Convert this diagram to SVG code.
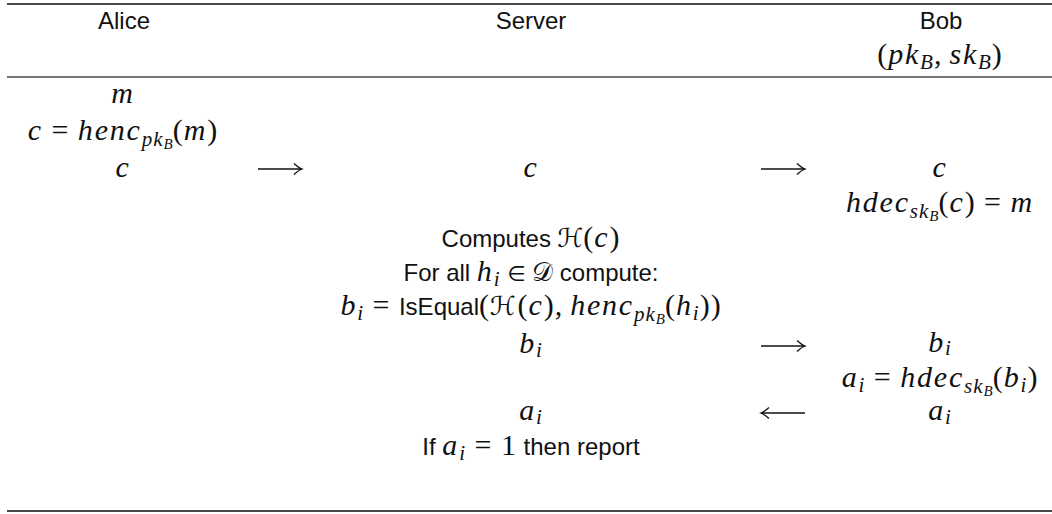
<svg xmlns="http://www.w3.org/2000/svg" width="1052" height="514" viewBox="0 0 1052 514">
<style>
  .rule{stroke:#474747;stroke-width:1.8}
  .rule-mid{stroke:#474747;stroke-width:1.4}
  .txt{font-family:"Liberation Sans",Arial,sans-serif;font-style:normal;font-size:24px;letter-spacing:0;fill:#111}
  .mi{font-family:"Liberation Serif","Times New Roman",serif;font-style:italic;font-size:30px;letter-spacing:1.8px;fill:#111}
  .rm{font-family:"Liberation Serif","Times New Roman",serif;font-style:normal;letter-spacing:1px}
  .cal{font-family:"DejaVu Serif","DejaVu Sans",serif;font-style:normal;font-size:26px}
  .rel{font-family:"DejaVu Sans",sans-serif;font-style:normal;font-size:21px}
  .sb{font-size:21px;letter-spacing:1px}
  .ssb{font-size:15px;letter-spacing:0}
  .conn{stroke:#111;stroke-width:1.3;fill:none}
</style>
<defs>
  <marker id="head" markerUnits="userSpaceOnUse" markerWidth="14" markerHeight="14" viewBox="-10 -7 14 14" refX="0" refY="0" orient="auto">
    <path d="M-8,-5.5 Q-3,-1 0,0 Q-3,1 -8,5.5" fill="none" stroke="#111" stroke-width="1.3"/>
  </marker>
</defs>

<!-- table rules -->
<g id="rules">
  <line class="rule" x1="7" y1="4" x2="1052" y2="4"/>
  <line class="rule-mid" x1="7" y1="77" x2="1052" y2="77"/>
  <line class="rule" x1="7" y1="511" x2="1052" y2="511"/>
</g>

<!-- column headings -->
<g id="head-alice"><text class="txt" x="124" y="29" text-anchor="middle">Alice</text></g>
<g id="head-server"><text class="txt" x="531" y="29" text-anchor="middle">Server</text></g>
<g id="head-bob">
  <text class="txt" x="941" y="29" text-anchor="middle">Bob</text>
  <text class="mi" x="940" y="64" text-anchor="middle"><tspan class="rm">(</tspan>pk<tspan class="sb" dy="5">B</tspan><tspan class="rm" dy="-5">,&#8201;</tspan>sk<tspan class="sb" dy="5">B</tspan><tspan class="rm" dy="-5">)</tspan></text>
</g>

<!-- Alice -->
<g id="alice-m"><text class="mi" x="123" y="103" text-anchor="middle">m</text></g>
<g id="alice-enc">
  <text class="mi" x="123" y="140" text-anchor="middle">c<tspan class="rm"> = </tspan>henc<tspan class="sb" dy="6">pk</tspan><tspan class="ssb" dy="3">B</tspan><tspan class="rm" dy="-9">(</tspan>m<tspan class="rm">)</tspan></text>
</g>
<g id="alice-c"><text class="mi" x="123" y="177" text-anchor="middle">c</text></g>

<!-- Server -->
<g id="server-c"><text class="mi" x="531" y="177" text-anchor="middle">c</text></g>
<g id="server-hash">
  <text class="txt" x="531" y="247" text-anchor="middle">Computes <tspan class="cal">ℋ</tspan><tspan class="mi"><tspan class="rm">(</tspan>c<tspan class="rm">)</tspan></tspan></text>
</g>
<g id="server-loop">
  <text class="txt" x="531" y="281" text-anchor="middle">For all <tspan class="mi">h<tspan class="sb" dy="5">i</tspan></tspan><tspan class="rel" dy="-5"> ∈ </tspan><tspan class="cal">𝒟</tspan> compute:</text>
</g>
<g id="server-compare">
  <text class="mi" x="531" y="315" text-anchor="middle">b<tspan class="sb" dy="5">i</tspan><tspan class="rm" dy="-5"> = </tspan><tspan class="txt">IsEqual</tspan><tspan class="rm">(</tspan><tspan class="cal">ℋ</tspan><tspan class="rm">(</tspan>c<tspan class="rm">),&#8201;</tspan>henc<tspan class="sb" dy="6">pk</tspan><tspan class="ssb" dy="3">B</tspan><tspan class="rm" dy="-9">(</tspan>h<tspan class="sb" dy="5">i</tspan><tspan class="rm" dy="-5">))</tspan></text>
</g>
<g id="server-b"><text class="mi" x="531" y="353" text-anchor="middle">b<tspan class="sb" dy="4">i</tspan></text></g>
<g id="server-a"><text class="mi" x="531" y="420" text-anchor="middle">a<tspan class="sb" dy="4">i</tspan></text></g>
<g id="server-report">
  <text class="txt" x="531" y="455" text-anchor="middle">If <tspan class="mi">a<tspan class="sb" dy="5">i</tspan><tspan class="rm" dy="-5"> = 1</tspan></tspan> then report</text>
</g>

<!-- Bob -->
<g id="bob-c"><text class="mi" x="940" y="177" text-anchor="middle">c</text></g>
<g id="bob-dec">
  <text class="mi" x="940" y="212" text-anchor="middle">hdec<tspan class="sb" dy="6">sk</tspan><tspan class="ssb" dy="3">B</tspan><tspan class="rm" dy="-9">(</tspan>c<tspan class="rm">) = </tspan>m</text>
</g>
<g id="bob-b"><text class="mi" x="940" y="352" text-anchor="middle">b<tspan class="sb" dy="3">i</tspan></text></g>
<g id="bob-decb">
  <text class="mi" x="940" y="387" text-anchor="middle">a<tspan class="sb" dy="5">i</tspan><tspan class="rm" dy="-5"> = </tspan>hdec<tspan class="sb" dy="6">sk</tspan><tspan class="ssb" dy="3">B</tspan><tspan class="rm" dy="-9">(</tspan>b<tspan class="sb" dy="5">i</tspan><tspan class="rm" dy="-5">)</tspan></text>
</g>
<g id="bob-a"><text class="mi" x="940" y="420" text-anchor="middle">a<tspan class="sb" dy="4">i</tspan></text></g>

<!-- message arrows -->
<g id="connectors">
  <path class="conn" d="M258,169 H302" marker-end="url(#head)"/>
  <path class="conn" d="M761,169 H805" marker-end="url(#head)"/>
  <path class="conn" d="M761,346 H805" marker-end="url(#head)"/>
  <path class="conn" d="M805,413 H761" marker-end="url(#head)"/>
</g>
</svg>
